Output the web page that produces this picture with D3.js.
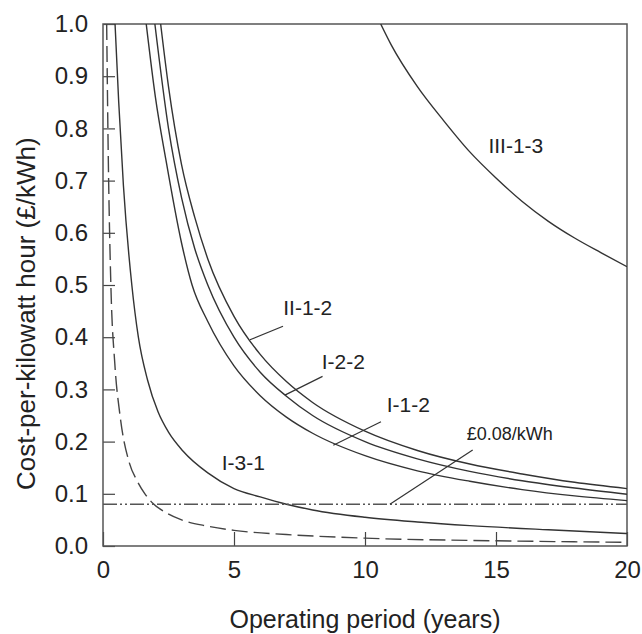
<!DOCTYPE html>
<html>
<head>
<meta charset="utf-8">
<script src="https://cdn.jsdelivr.net/npm/d3@7"></script>
<style>
  body { margin: 0; background: #fff; }
  text { font-family: "Liberation Sans", Arial, Helvetica, sans-serif; fill: #222; }
</style>
</head>
<body>
<div id="chart"></div>
<script>
// curves: [operating period (years), cost (GBP/kWh)]
var curveIII13 = [[10.6,1.0],[11,0.96],[12,0.88],[13,0.815],[14,0.755],[15,0.705],[16,0.66],[17,0.622],[18,0.59],[19,0.562],[20,0.535]];
var curveII12 = [[2.2,1.0],[2.5,0.88],[3,0.73],[3.5,0.63],[4,0.55],[5,0.44],[6,0.367],[7,0.315],[8,0.275],[10,0.22],[12,0.183],[14,0.157],[16,0.138],[18,0.122],[20,0.11]];
var curveI22 = [[1.98,1.0],[2.5,0.8],[3,0.667],[3.5,0.57],[4,0.5],[5,0.4],[6,0.333],[7,0.287],[8,0.25],[10,0.2],[12,0.167],[14,0.143],[16,0.125],[18,0.111],[20,0.099]];
var curveI12 = [[1.65,1.0],[2,0.86],[2.4,0.74],[3,0.58],[3.4,0.5],[4,0.43],[5,0.345],[6,0.288],[7,0.247],[8,0.216],[10,0.173],[12,0.144],[14,0.124],[16,0.108],[18,0.096],[20,0.087]];
var curveI31 = [[0.46,1.0],[0.6,0.85],[0.78,0.69],[1.1,0.5],[1.35,0.4],[1.7,0.318],[2.1,0.257],[2.5,0.218],[3.05,0.182],[4,0.14],[5,0.11],[6,0.094],[7,0.08],[8,0.069],[10,0.055],[12,0.046],[14,0.039],[17,0.031],[20,0.024]];
var dashedCurve = [[0.14,1.0],[0.2,0.75],[0.3,0.5],[0.45,0.35],[0.65,0.25],[1.0,0.16],[1.3,0.125],[1.6,0.1],[1.9,0.082],[2.4,0.064],[3,0.05],[4,0.038],[5,0.03],[7,0.022],[10,0.015],[15,0.01],[20,0.007]];
var targetCost = 0.08;

var xTicks = [0, 5, 10, 15, 20];
var yTicks = [0, 0.1, 0.2, 0.3, 0.4, 0.5, 0.6, 0.7, 0.8, 0.9, 1.0];

// curve labels (anchor in data units) and their leader lines
var labelNames = ["III-1-3", "II-1-2", "I-2-2", "I-1-2", "I-3-1", "£0.08/kWh"];
var labelAt = [[14.71,0.752],[6.88,0.4425],[8.35,0.34],[10.83,0.257],[4.53,0.146],[13.88,0.203]];
var leaders = [
  [[6.87,0.421],[5.61,0.395]],
  [[8.38,0.325],[6.94,0.289]],
  [[10.61,0.238],[8.79,0.193]],
  [[14.11,0.184],[10.95,0.08]]
];

var margin = {top: 24, right: 15, bottom: 88, left: 103},
    width = 642 - margin.left - margin.right,
    height = 634 - margin.top - margin.bottom;

var svg = d3.select("#chart")
  .append("svg")
    .attr("width", 642)
    .attr("height", 634)
  .append("g")
    .attr("transform", "translate(" + margin.left + "," + margin.top + ")");

var x = d3.scaleLinear().domain([0, 20]).range([0, width]);
var y = d3.scaleLinear().domain([0, 1]).range([height, 0]);

svg.append("clipPath").attr("id", "plotClip")
  .append("rect").attr("width", width).attr("height", height);

// axes, ticks pointing inwards
var yAxis = svg.append("g")
  .call(d3.axisLeft(y).tickValues(yTicks).tickFormat(d3.format(".1f"))
    .tickSizeInner(-12).tickSizeOuter(0).tickPadding(15));
var xAxis = svg.append("g")
  .attr("transform", "translate(0," + height + ")")
  .call(d3.axisBottom(x).tickValues(xTicks).tickFormat(d3.format("d"))
    .tickSizeInner(-14).tickSizeOuter(0).tickPadding(15));
[xAxis, yAxis].forEach(function(a) {
  a.select(".domain").remove();
  a.selectAll("line").attr("stroke", "#444").attr("stroke-width", 1.2);
  a.selectAll("text").style("font-size", "24px").style("fill", "#222");
});

// frame
svg.append("rect")
  .attr("width", width).attr("height", height)
  .attr("fill", "none").attr("stroke", "#555").attr("stroke-width", 1.5);

var line = d3.line()
  .x(function(d) { return x(d[0]); })
  .y(function(d) { return y(d[1]); })
  .curve(d3.curveMonotoneX);

var plot = svg.append("g").attr("clip-path", "url(#plotClip)");

plot.selectAll("solidLines")
  .data([curveIII13, curveII12, curveI22, curveI12, curveI31])
  .enter()
  .append("path")
    .attr("d", line)
    .attr("fill", "none")
    .attr("stroke", "#333")
    .attr("stroke-width", 1.4);

plot.append("path")
  .attr("d", line(dashedCurve))
  .attr("fill", "none")
  .attr("stroke", "#444")
  .attr("stroke-width", 1.4)
  .attr("stroke-dasharray", "16,6");

// £0.08/kWh reference line
plot.append("line")
  .attr("x1", x(0)).attr("x2", x(20))
  .attr("y1", y(targetCost)).attr("y2", y(targetCost))
  .attr("stroke", "#555")
  .attr("stroke-width", 1.3)
  .attr("stroke-dasharray", "14,3,2,3,2,3");

// leader lines
svg.selectAll("leaders")
  .data(leaders)
  .enter()
  .append("line")
    .attr("x1", function(d) { return x(d[0][0]); })
    .attr("y1", function(d) { return y(d[0][1]); })
    .attr("x2", function(d) { return x(d[1][0]); })
    .attr("y2", function(d) { return y(d[1][1]); })
    .attr("stroke", "#333")
    .attr("stroke-width", 1.2);

svg.selectAll("curveLabels")
  .data(labelNames)
  .enter()
  .append("text")
    .attr("x", function(d, i) { return x(labelAt[i][0]); })
    .attr("y", function(d, i) { return y(labelAt[i][1]); })
    .style("font-size", function(d) { return d.charAt(0) == "£" ? "18px" : "21px"; })
    .text(function(d) { return d; });

// axis titles
svg.append("text")
  .attr("x", width / 2)
  .attr("y", 604)
  .attr("text-anchor", "middle")
  .style("font-size", "25px")
  .text("Operating period (years)");

svg.append("text")
  .attr("transform", "translate(" + (35 - margin.left) + "," + (490 - margin.top) + ") rotate(-90)")
  .attr("text-anchor", "start")
  .style("font-size", "26px")
  .text("Cost-per-kilowatt hour (£/kWh)");
</script>
</body>
</html>
